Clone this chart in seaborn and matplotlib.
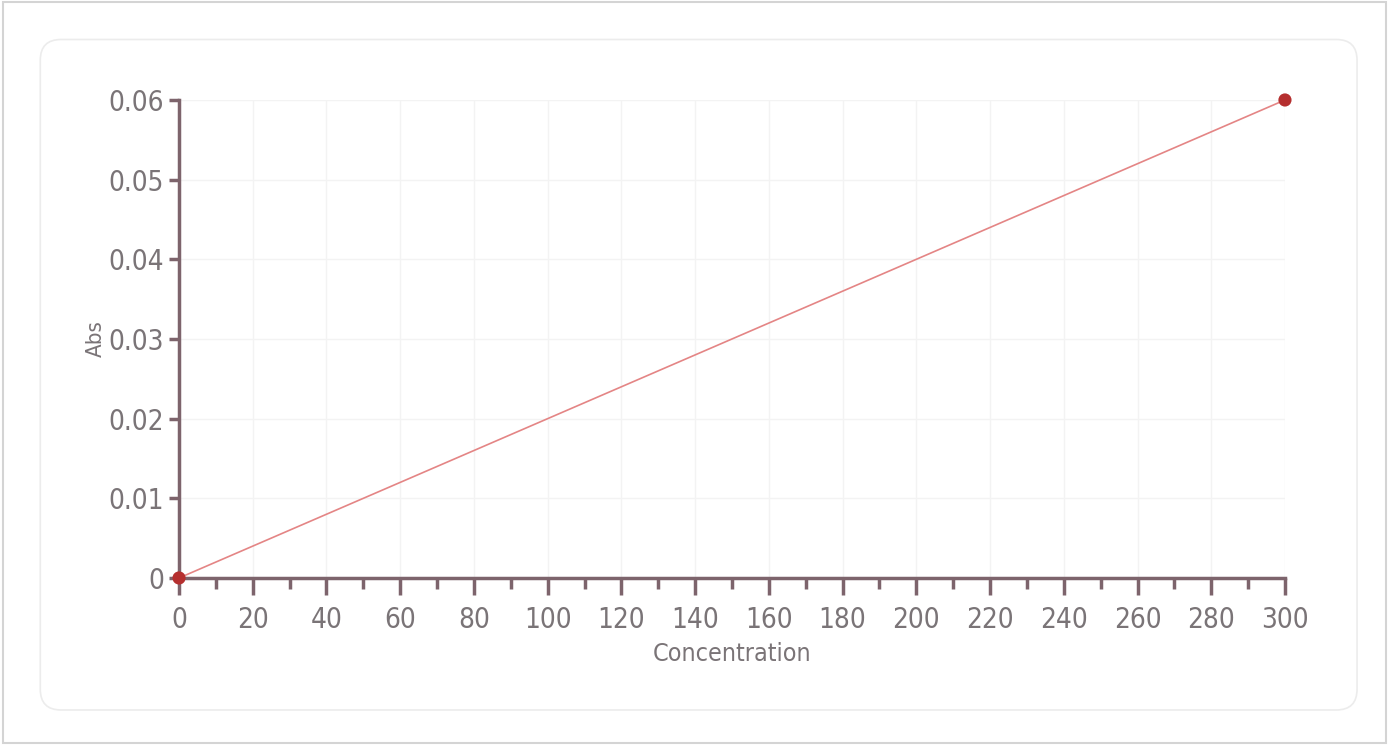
import numpy as np
import pandas as pd
import matplotlib
matplotlib.use("Agg")
import matplotlib.pyplot as plt
from matplotlib.patches import FancyBboxPatch, Rectangle
from matplotlib.ticker import FuncFormatter, MultipleLocator
import seaborn as sns

# calibration data
concentration = [0, 300]
absorbance = [0.0, 0.06]

x_ticks = list(range(0, 301, 20))
y_ticks = [0, 0.01, 0.02, 0.03, 0.04, 0.05, 0.06]

sns.set_style("white")
plt.rcParams["font.family"] = ["DejaVu Sans"]
plt.rcParams["font.stretch"] = "condensed"

axis_col = "#7d646c"
text_col = "#7a7477"

fig = plt.figure(figsize=(13.89, 7.45), dpi=100)

# outer frame and rounded panel
fig.patches.append(Rectangle((0.002, 0.003), 0.996, 0.994, transform=fig.transFigure,
                             fill=False, ec="#d4d4d4", lw=1.5))
fig.patches.append(FancyBboxPatch((0.029, 0.047), 0.948, 0.9, transform=fig.transFigure,
                                  boxstyle="round,pad=0,rounding_size=0.015",
                                  fill=False, ec="#ececec", lw=1.2, mutation_aspect=1.86))

ax = fig.add_axes([0.1289, 0.2242, 0.7962, 0.6416])
df = pd.DataFrame({"Concentration": concentration, "Abs": absorbance})

sns.lineplot(data=df, x="Concentration", y="Abs", ax=ax, color="#e48585", lw=1.2)
sns.scatterplot(data=df, x="Concentration", y="Abs", ax=ax, color="#b52f2f", s=90,
                edgecolor="none", clip_on=False, zorder=5)

ax.set_xlim(0, 300)
ax.set_ylim(0, 0.06)
ax.set_xticks(x_ticks)
ax.set_yticks(y_ticks)
ax.xaxis.set_minor_locator(MultipleLocator(10))
ax.yaxis.set_major_formatter(FuncFormatter(lambda v, p: f"{v:g}"))

ax.grid(True, which="major", color="#f3f3f3", lw=1)
for s in ["top", "right"]:
    ax.spines[s].set_visible(False)
for s in ["left", "bottom"]:
    ax.spines[s].set_color(axis_col)
    ax.spines[s].set_linewidth(2.5)

ax.tick_params(axis="x", which="major", direction="out", length=12, width=2.5,
               color=axis_col, labelcolor=text_col, labelsize=20, pad=8, bottom=True)
ax.tick_params(axis="x", which="minor", direction="out", length=8, width=2.5,
               color=axis_col, bottom=True)
ax.tick_params(axis="y", which="major", direction="out", length=7, width=2.5,
               color=axis_col, labelcolor=text_col, labelsize=20, pad=4, left=True)

ax.set_xlabel("Concentration", fontsize=18, color=text_col)
ax.set_ylabel("Abs", fontsize=16, color=text_col)
ax.xaxis.set_label_coords(0.5, -0.133)
ax.yaxis.set_label_coords(-0.066, 0.5)

fig.savefig("out.png", dpi=100, facecolor="white")
